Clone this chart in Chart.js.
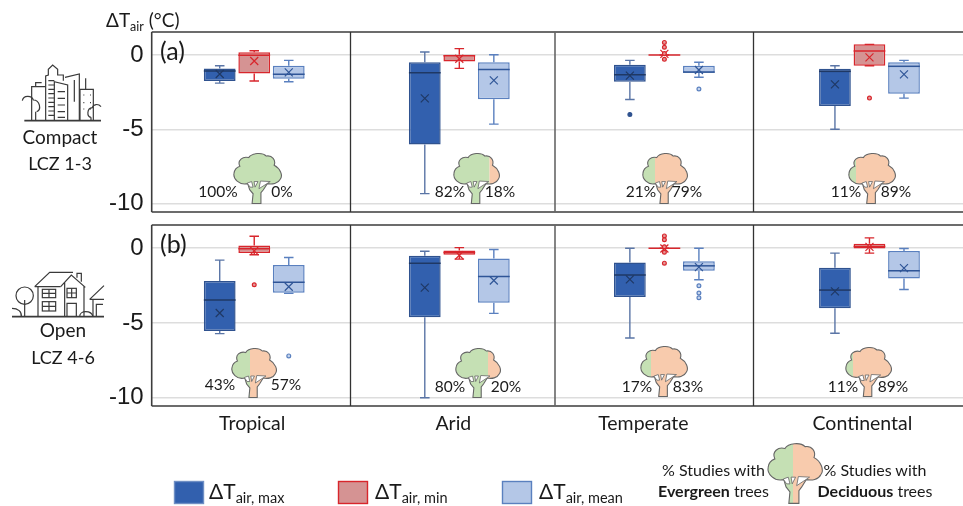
<!DOCTYPE html>
<html>
<head>
<meta charset="utf-8">
<script src="https://cdn.jsdelivr.net/npm/chart.js@4"></script>
<style>
  html, body { margin: 0; padding: 0; background: #fff; overflow: hidden; width: 963px; height: 506px; }
  canvas { position: absolute; left: 0; }
  #chartA { top: 0; }
  #chartB { top: 215px; }
  #overlay { position: absolute; left: 0; top: 0; }
  #overlay text { font-family: Lato, "Open Sans", sans-serif; fill: #1a1a1a; }
</style>
</head>
<body>
<canvas id="chartA" width="972" height="222"></canvas>
<canvas id="chartB" width="972" height="226"></canvas>
<svg id="overlay" width="963" height="506" xmlns="http://www.w3.org/2000/svg"></svg>
<script>
const categories = ['Tropical', 'Arid', 'Temperate', 'Continental'];
const tickValues = [0, -5, -10];

// each row: low whisker, q1, median, q3, high whisker, mean
const compactMax = [
  [-1.89, -1.75, -1.08, -0.90, -0.72, -1.28],
  [-9.33, -6.02, -1.19, -0.49, 0.20, -2.92],
  [-3.00, -1.80, -1.33, -0.65, -0.36, -1.39],
  [-5.00, -3.44, -1.10, -0.92, -0.72, -1.98]
];
const compactMin = [
  [-1.75, -1.24, -0.02, 0.18, 0.29, -0.40],
  [-0.90, -0.43, -0.05, 0.02, 0.43, -0.25],
  [0, 0, 0, 0, 0, 0.08],
  [-0.72, -0.72, 0.27, 0.72, 0.72, -0.16]
];
const compactMean = [
  [-1.80, -1.60, -1.30, -0.72, -0.36, -1.17],
  [-4.65, -2.97, -0.97, -0.49, 0.02, -1.71],
  [-1.50, -1.19, -1.15, -0.72, -0.49, -1.01],
  [-2.90, -2.60, -0.76, -0.49, -0.36, -1.30]
];
const openMax = [
  [-5.71, -5.53, -3.47, -2.20, -0.80, -4.33],
  [-10.0, -4.62, -1.00, -0.51, -0.20, -2.64],
  [-6.00, -3.27, -1.80, -0.96, 0, -2.09],
  [-5.69, -4.02, -2.80, -1.31, -0.33, -2.89]
];
const openMin = [
  [-0.44, -0.33, -0.04, 0.18, 0.80, -0.18],
  [-0.73, -0.44, -0.29, -0.16, 0.04, -0.47],
  [0, 0, 0, 0, 0, -0.02],
  [-0.33, -0.02, 0.12, 0.29, 0.69, 0.09]
];
const openMean = [
  [-3.02, -2.98, -2.27, -1.13, -0.62, -2.58],
  [-4.36, -3.64, -1.89, -0.69, -0.09, -2.16],
  [-2.11, -1.51, -1.18, -0.87, 0, -1.27],
  [-2.76, -2.02, -1.51, -0.18, -0.02, -1.33]
];

const compactMaxOutliers = [[], [], [-4.0], []];
const compactMinOutliers = [[], [], [0.85, 0.52, 0.1, -0.29], [-2.9]];
const compactMeanOutliers = [[], [], [-2.29], []];
const openMaxOutliers = [[], [], [], []];
const openMinOutliers = [[-2.44], [], [0.82, 0.56, 0.1, -0.27, -1.0], []];
const openMeanOutliers = [[-7.2], [], [-2.51, -3.0, -3.31], []];

const evergreenCompact = [100, 82, 21, 11];
const deciduousCompact = [0, 18, 79, 89];
const evergreenOpen = [43, 80, 17, 11];
const deciduousOpen = [57, 20, 83, 89];

const seriesStyles = [
  { fill: '#3260AE', edge: '#2F528F', whisker: '#5A75A6', mid: '#1F3864', dot: '#2F528F', dotFill: '#2F528F' },
  { fill: '#D59393', edge: '#D8262C', whisker: '#D8262C', mid: '#D8262C', dot: '#D8262C', dotFill: '#E59A9A' },
  { fill: '#B4C7E7', edge: '#5A80BF', whisker: '#5A80BF', mid: '#2F5597', dot: '#5A80BF', dotFill: '#C6D5EE' }
];

// hand placed bits of the figure, in page pixels
const dividers = [[350.5, '#333', 1.3], [555, '#666', 1.6], [753.5, '#333', 1.3]];
const labelShift = [-2, -6, -21, -7];

function boxPlugin(panelLetter, showCategories) {
  return {
    id: 'boxParts',
    afterDatasetsDraw(chart) {
      const ctx = chart.ctx;
      const y = chart.scales.y;
      const area = chart.chartArea;
      ctx.save();
      chart.data.datasets.forEach((ds, i) => {
        const st = seriesStyles[i];
        chart.getDatasetMeta(i).data.forEach((bar, j) => {
          const [lo, q1, med, q3, hi, mean] = ds.box[j];
          const half = bar.width / 2;
          const capHalf = half * 0.3;
          // whiskers
          ctx.strokeStyle = st.whisker;
          ctx.lineWidth = 1.4;
          ctx.beginPath();
          ctx.moveTo(bar.x, y.getPixelForValue(q3));
          ctx.lineTo(bar.x, y.getPixelForValue(hi));
          ctx.moveTo(bar.x, y.getPixelForValue(q1));
          ctx.lineTo(bar.x, y.getPixelForValue(lo));
          ctx.moveTo(bar.x - capHalf, y.getPixelForValue(hi));
          ctx.lineTo(bar.x + capHalf, y.getPixelForValue(hi));
          ctx.moveTo(bar.x - capHalf, y.getPixelForValue(lo));
          ctx.lineTo(bar.x + capHalf, y.getPixelForValue(lo));
          ctx.stroke();
          // median
          ctx.strokeStyle = st.mid;
          ctx.lineWidth = 1.5;
          ctx.beginPath();
          ctx.moveTo(bar.x - half, y.getPixelForValue(med));
          ctx.lineTo(bar.x + half, y.getPixelForValue(med));
          ctx.stroke();
          // mean cross
          const my = y.getPixelForValue(mean);
          ctx.lineWidth = 1.2;
          ctx.beginPath();
          ctx.moveTo(bar.x - 4, my - 4);
          ctx.lineTo(bar.x + 4, my + 4);
          ctx.moveTo(bar.x + 4, my - 4);
          ctx.lineTo(bar.x - 4, my + 4);
          ctx.stroke();
          // outliers
          ds.outliers[j].forEach(v => {
            ctx.beginPath();
            ctx.arc(bar.x, y.getPixelForValue(v), 1.9, 0, Math.PI * 2);
            ctx.fillStyle = st.dotFill;
            ctx.fill();
            ctx.strokeStyle = st.dot;
            ctx.lineWidth = 1.2;
            ctx.stroke();
          });
        });
      });

      // frame: the top and bottom rules run off the page, dividers are hand drawn
      ctx.strokeStyle = '#3c3c3c';
      ctx.lineWidth = 1.6;
      ctx.beginPath();
      ctx.moveTo(area.left, area.top);
      ctx.lineTo(area.right, area.top);
      ctx.moveTo(area.left, area.bottom);
      ctx.lineTo(area.right, area.bottom);
      ctx.moveTo(area.left, area.top);
      ctx.lineTo(area.left, area.bottom);
      ctx.stroke();
      dividers.forEach(([px, color, w]) => {
        ctx.strokeStyle = color;
        ctx.lineWidth = w;
        ctx.beginPath();
        ctx.moveTo(px, area.top);
        ctx.lineTo(px, area.bottom);
        ctx.stroke();
      });

      ctx.fillStyle = '#1a1a1a';
      ctx.textBaseline = 'middle';
      ctx.font = '25px Lato';
      ctx.textAlign = 'left';
      ctx.fillText(panelLetter, 160, y.getPixelForValue(0) - 3);
      if (showCategories) {
        const x = chart.scales.x;
        ctx.font = '19.5px Lato';
        ctx.textAlign = 'center';
        categories.forEach((c, i) => {
          ctx.fillText(c, x.getPixelForValue(i) + labelShift[i], area.bottom + 17.5);
        });
      }
      ctx.restore();
    }
  };
}

function drawPanel(id, rows, outliers, range, pad, panelLetter, showCategories) {
  const names = ['ΔTair, max', 'ΔTair, min', 'ΔTair, mean'];
  new Chart(document.getElementById(id), {
    type: 'bar',
    data: {
      labels: categories,
      datasets: rows.map((r, i) => ({
        label: names[i],
        data: r.map(b => [b[1], b[3]]),
        box: r,
        outliers: outliers[i],
        backgroundColor: seriesStyles[i].fill,
        borderColor: seriesStyles[i].edge,
        borderWidth: 1.5,
        borderSkipped: false,
        barPercentage: 0.92,
        categoryPercentage: 0.505
      }))
    },
    options: {
      responsive: false,
      animation: false,
      layout: { padding: pad },
      plugins: { legend: { display: false }, tooltip: { enabled: false } },
      scales: {
        x: { display: false, type: 'category' },
        y: {
          min: range[0],
          max: range[1],
          afterFit: s => { s.width = 151.7; s.paddingTop = 0; s.paddingBottom = 0; },
          afterBuildTicks: s => { s.ticks = tickValues.map(v => ({ value: v })); },
          border: { display: false },
          grid: { color: '#DDDDDD', lineWidth: 1.5, drawTicks: false },
          ticks: {
            font: { family: 'Liberation Sans', size: 24 },
            color: '#1a1a1a',
            padding: 8,
            callback: v => String(v)
          }
        }
      }
    },
    plugins: [boxPlugin(panelLetter, showCategories)]
  });
}

drawPanel('chartA', [compactMax, compactMin, compactMean],
  [compactMaxOutliers, compactMinOutliers, compactMeanOutliers],
  [-10.57, 1.55], { top: 32, bottom: 10 }, '(a)', false);
drawPanel('chartB', [openMax, openMin, openMean],
  [openMaxOutliers, openMinOutliers, openMeanOutliers],
  [-10.55, 1.55], { top: 10, bottom: 35 }, '(b)', true);

// ---- overlay: trees, icons, legend and captions ----
const svg = document.getElementById('overlay');
let svgMarkup = '';

const crownPath = 'M30 60 C12 64 0 50 2 40 C3 32 8 28 14 26 C8 14 20 6 32 9 C38 0 60 -2 68 6 C80 4 88 14 84 24 C96 30 103 44 96 52 C92 60 80 62 70 60 L62 72 L57 78 L57 99 L39 99 L41 80 L34 72 Z';
const treeHoles = ['M29 59 L38 56 L41 67 L35 67 Z', 'M43 56 L51 56 L45 67 Z', 'M56 55 L76 56 L53 70 Z'];

function tree(x, y, w, h, splitX) {
  const cid = 'c' + Math.round(x) + '_' + Math.round(y);
  const sx = (splitX - x) / w * 100;
  let s = `<g transform="translate(${x} ${y}) scale(${w / 100} ${h / 100})">`;
  s += `<clipPath id="${cid}L"><rect x="-5" y="-5" width="${sx + 5}" height="110"/></clipPath>`;
  s += `<clipPath id="${cid}R"><rect x="${sx}" y="-5" width="${110 - sx}" height="110"/></clipPath>`;
  s += `<path d="${crownPath}" fill="#C5E0B4" clip-path="url(#${cid}L)"/>`;
  s += `<path d="${crownPath}" fill="#F8CBAD" clip-path="url(#${cid}R)"/>`;
  s += `<path d="${crownPath}" fill="none" stroke="#666" stroke-width="1.1" vector-effect="non-scaling-stroke"/>`;
  treeHoles.forEach(d => {
    s += `<path d="${d}" fill="#fff" stroke="#666" stroke-width="0.8" vector-effect="non-scaling-stroke"/>`;
  });
  return s + '</g>';
}

function label(txt, x, y, size, anchor, weight) {
  return `<text x="${x}" y="${y}" font-size="${size}" text-anchor="${anchor || 'middle'}" dominant-baseline="middle"${weight ? ` font-weight="${weight}"` : ''}>${txt}</text>`;
}

// x, y, width, height, colour split, left label x, right label x, label y
const compactTrees = [
  [233, 153, 49, 51, 283, 218, 282, 193],
  [453, 153, 47, 51, 489.5, 450, 500, 193],
  [642, 153, 46, 51, 655, 641, 687, 193],
  [848, 153, 48, 51, 856, 846, 896, 193]
];
const openTrees = [
  [231, 348, 46, 50, 250, 220, 286, 386],
  [455, 348, 46, 50, 488, 450, 506, 388],
  [640, 346, 48, 51, 651, 637, 688, 388],
  [845, 347, 47, 50, 853, 843, 893, 388]
];
compactTrees.forEach((t, i) => {
  svgMarkup += tree(t[0], t[1], t[2], t[3], t[4]);
  svgMarkup += label(evergreenCompact[i] + '%', t[5], t[7], 15.5);
  svgMarkup += label(deciduousCompact[i] + '%', t[6], t[7], 15.5);
});
openTrees.forEach((t, i) => {
  svgMarkup += tree(t[0], t[1], t[2], t[3], t[4]);
  svgMarkup += label(evergreenOpen[i] + '%', t[5], t[7], 15.5);
  svgMarkup += label(deciduousOpen[i] + '%', t[6], t[7], 15.5);
});

// axis title
svgMarkup += `<text x="106" y="27" font-size="19">ΔT<tspan font-size="12.5" dy="4">air</tspan><tspan dy="-4"> (°C)</tspan></text>`;

// legend swatches and labels
const legendNames = ['max', 'min', 'mean'];
const legendSwatchX = [174.5, 338.5, 502.5];
const legendTextX = [209, 375, 539];
legendNames.forEach((n, i) => {
  svgMarkup += `<rect x="${legendSwatchX[i]}" y="481.5" width="29" height="22" fill="${seriesStyles[i].fill}" stroke="${i === 0 ? '#6F8FC4' : seriesStyles[i].edge}" stroke-width="1.4"/>`;
  svgMarkup += `<text x="${legendTextX[i]}" y="499" font-size="21">ΔT<tspan font-size="14.5" dy="4">air, ${n}</tspan></text>`;
});

// key tree
svgMarkup += tree(767, 443, 56, 61, 793);
svgMarkup += label('% Studies with', 713.5, 472, 16);
svgMarkup += `<text x="713.5" y="493" font-size="16" text-anchor="middle" dominant-baseline="middle"><tspan font-weight="700">Evergreen</tspan> trees</text>`;
svgMarkup += label('% Studies with', 875, 472, 16);
svgMarkup += `<text x="875" y="493" font-size="16" text-anchor="middle" dominant-baseline="middle"><tspan font-weight="700">Deciduous</tspan> trees</text>`;

// row captions
svgMarkup += label('Compact', 60, 139, 19);
svgMarkup += label('LCZ 1-3', 60, 165, 18);
svgMarkup += label('Open', 63, 332, 19);
svgMarkup += label('LCZ 4-6', 63, 359, 18);

// city icon
svgMarkup += `<g transform="translate(15 60) scale(0.3333)" fill="none" stroke="#3a3a3a" stroke-width="3.6">
  <path d="M28 182 H258" stroke-width="5"/>
  <path d="M50 182 V80 H92 M62 80 V68 H80"/>
  <path d="M92 182 V48 L100 45 V28 L113 15 L128 28 V45 H145 V62"/>
  <path d="M118 182 V65 L158 75 V182"/>
  <path d="M100 62 H118 M100 75 H118 M100 88 H118 M100 101 H118 M100 114 H118 M100 127 H118 M100 140 H118 M100 153 H118 M100 166 H118"/>
  <path d="M128 95 H150 M128 115 H150 M128 135 H150 M128 155 H150 M128 172 H150"/>
  <path d="M150 52 L193 42 V182 M178 60 V125"/>
  <path d="M195 182 V88 H212 V55 M212 88 H235 V182"/>
  <path d="M205 105 h3 M225 105 h3 M205 128 h3 M225 128 h3 M205 147 h3 M225 147 h3"/>
  <path d="M22 122 C25 105 50 105 55 120 C75 120 80 150 65 155 M62 182 V155"/>
  <path d="M258 140 C250 130 235 132 232 143 C215 145 215 170 228 172 M228 182 V172"/>
</g>`;

// house icon
svgMarkup += `<g transform="translate(8 265) scale(0.3333)" fill="none" stroke="#3a3a3a" stroke-width="3.6">
  <path d="M12 155 H288" stroke-width="5"/>
  <path d="M90 155 V67 M80 65 L125 22 H195 M80 65 H158"/>
  <path d="M158 65 L190 30 L232 67 M170 52 V155 M228 62 V155"/>
  <path d="M207 38 V25 H220 V50"/>
  <rect x="103" y="73" width="40" height="25"/><path d="M123 73 V98 M103 85 H143"/>
  <rect x="103" y="110" width="40" height="28"/><path d="M123 110 V138 M103 124 H143"/>
  <rect x="177" y="70" width="28" height="28"/><path d="M191 70 V98 M177 84 H205"/>
  <path d="M177 155 V115 H205 V155"/>
  <circle cx="50" cy="92" r="26"/><path d="M50 155 V105"/>
  <path d="M12 130 C30 130 42 140 40 155"/>
  <path d="M215 155 C215 135 250 135 255 155"/>
  <path d="M245 103 L288 62 M245 103 H288 M255 103 V155 M265 155 V118 H285"/>
</g>`;

svg.innerHTML = svgMarkup;
</script>
</body>
</html>
